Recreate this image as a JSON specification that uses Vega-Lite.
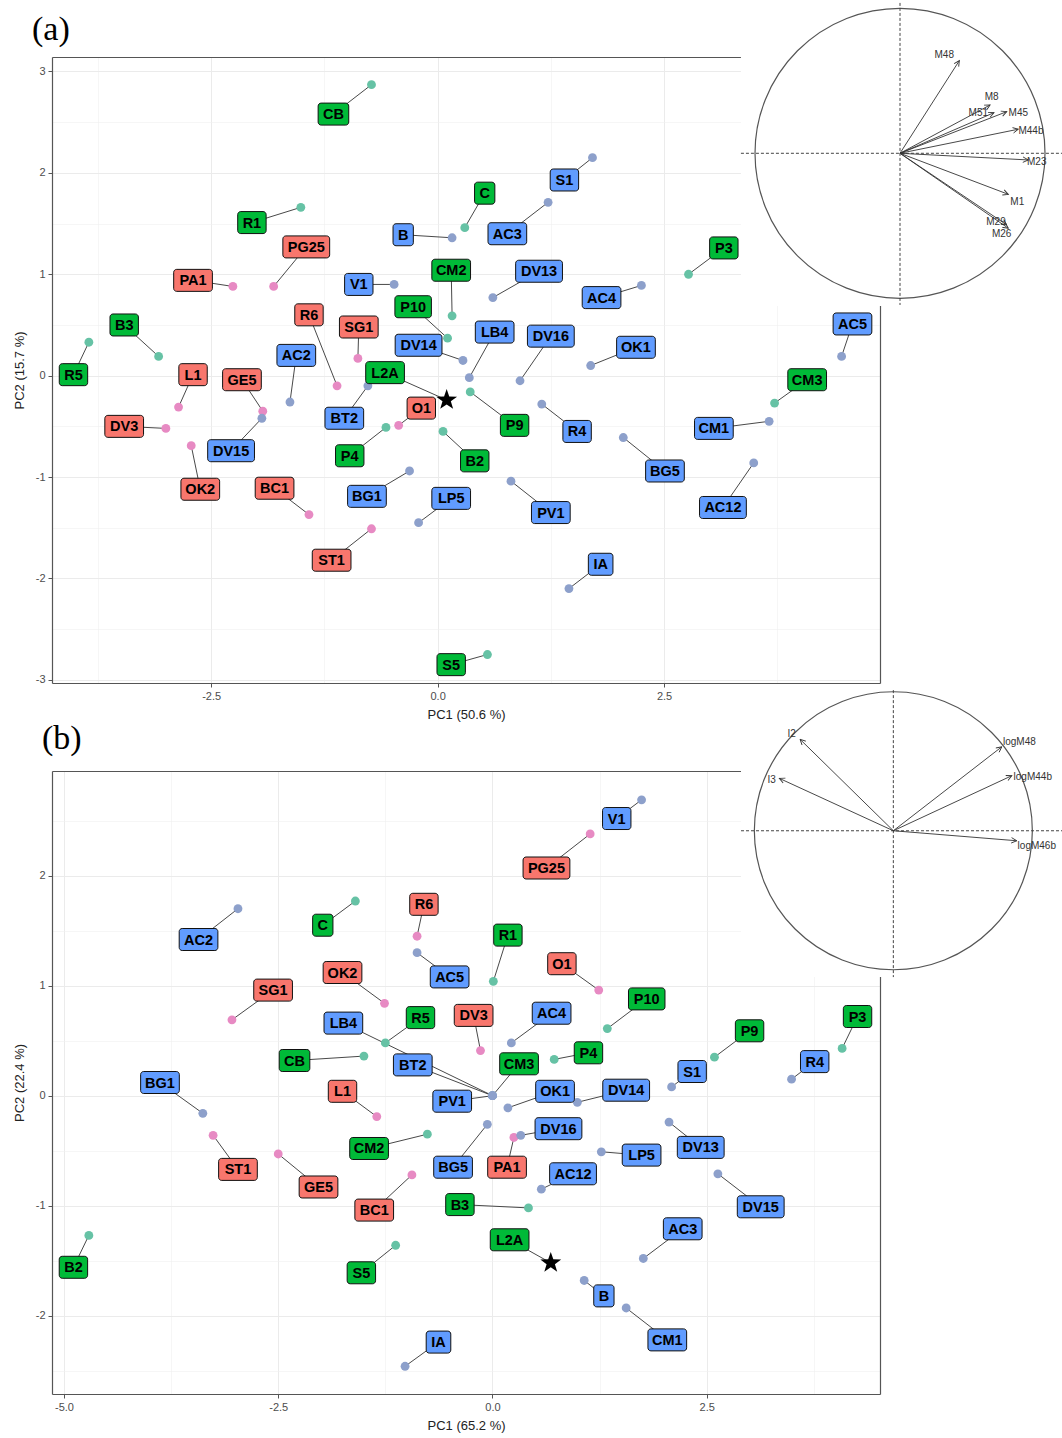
{
"$schema": "https://vega.github.io/schema/vega-lite/v6.json",
"autosize": {"type": "pad"},
"padding": {"left": 13, "top": 0, "right": 0, "bottom": 0},
"background": "white",
"config": {
  "view": {"stroke": null},
  "font": "Liberation Sans",
  "axis": {"domainColor": "#555555", "domainWidth": 1.2, "tickColor": "#555555", "tickSize": 4, "tickWidth": 1, "labelColor": "#4d4d4d", "labelFontSize": 11, "labelFont": "Liberation Sans", "titleFont": "Liberation Sans", "titleFontSize": 13, "titleFontWeight": "normal", "titleColor": "#222222", "gridColor": "#ebebeb", "gridWidth": 1, "labelPadding": 3}
},
"datasets": {
  "a": [
    {"label":"PG25","grp":"r","px":-1.81,"py":0.88,"lx":-1.45,"ly":1.27},
    {"label":"PA1","grp":"r","px":-2.26,"py":0.88,"lx":-2.70,"ly":0.94},
    {"label":"R6","grp":"r","px":-1.11,"py":-0.10,"lx":-1.42,"ly":0.60},
    {"label":"SG1","grp":"r","px":-0.88,"py":0.17,"lx":-0.87,"ly":0.48},
    {"label":"L1","grp":"r","px":-2.86,"py":-0.31,"lx":-2.70,"ly":0.01},
    {"label":"GE5","grp":"r","px":-1.93,"py":-0.35,"lx":-2.16,"ly":-0.04},
    {"label":"DV3","grp":"r","px":-3.00,"py":-0.52,"lx":-3.46,"ly":-0.50},
    {"label":"OK2","grp":"r","px":-2.72,"py":-0.69,"lx":-2.62,"ly":-1.12},
    {"label":"BC1","grp":"r","px":-1.42,"py":-1.37,"lx":-1.80,"ly":-1.11},
    {"label":"ST1","grp":"r","px":-0.73,"py":-1.51,"lx":-1.17,"ly":-1.82},
    {"label":"O1","grp":"r","px":-0.43,"py":-0.49,"lx":-0.18,"ly":-0.32},
    {"label":"CB","grp":"g","px":-0.73,"py":2.87,"lx":-1.15,"ly":2.58},
    {"label":"R1","grp":"g","px":-1.51,"py":1.66,"lx":-2.05,"ly":1.51},
    {"label":"C","grp":"g","px":0.30,"py":1.46,"lx":0.52,"ly":1.80},
    {"label":"CM2","grp":"g","px":0.16,"py":0.59,"lx":0.15,"ly":1.04},
    {"label":"P10","grp":"g","px":0.11,"py":0.37,"lx":-0.27,"ly":0.68},
    {"label":"B3","grp":"g","px":-3.08,"py":0.19,"lx":-3.46,"ly":0.50},
    {"label":"R5","grp":"g","px":-3.85,"py":0.33,"lx":-4.02,"ly":0.01},
    {"label":"L2A","grp":"g","px":0.10,"py":-0.24,"lx":-0.58,"ly":0.03},
    {"label":"P4","grp":"g","px":-0.57,"py":-0.51,"lx":-0.97,"ly":-0.79},
    {"label":"B2","grp":"g","px":0.06,"py":-0.55,"lx":0.41,"ly":-0.84},
    {"label":"S5","grp":"g","px":0.55,"py":-2.75,"lx":0.15,"ly":-2.85},
    {"label":"P9","grp":"g","px":0.36,"py":-0.16,"lx":0.85,"ly":-0.49},
    {"label":"CM3","grp":"g","px":3.72,"py":-0.27,"lx":4.08,"ly":-0.04},
    {"label":"P3","grp":"g","px":2.77,"py":1.00,"lx":3.16,"ly":1.26},
    {"label":"B","grp":"b","px":0.16,"py":1.36,"lx":-0.38,"ly":1.39},
    {"label":"AC3","grp":"b","px":1.22,"py":1.71,"lx":0.77,"ly":1.40},
    {"label":"S1","grp":"b","px":1.71,"py":2.15,"lx":1.40,"ly":1.93},
    {"label":"DV13","grp":"b","px":0.61,"py":0.77,"lx":1.12,"ly":1.03},
    {"label":"V1","grp":"b","px":-0.48,"py":0.90,"lx":-0.87,"ly":0.90},
    {"label":"AC4","grp":"b","px":2.25,"py":0.89,"lx":1.81,"ly":0.77},
    {"label":"LB4","grp":"b","px":0.35,"py":-0.02,"lx":0.63,"ly":0.43},
    {"label":"DV14","grp":"b","px":0.28,"py":0.15,"lx":-0.21,"ly":0.30},
    {"label":"DV16","grp":"b","px":0.91,"py":-0.05,"lx":1.25,"ly":0.39},
    {"label":"OK1","grp":"b","px":1.69,"py":0.10,"lx":2.19,"ly":0.28},
    {"label":"AC5","grp":"b","px":4.46,"py":0.19,"lx":4.58,"ly":0.51},
    {"label":"AC2","grp":"b","px":-1.63,"py":-0.26,"lx":-1.56,"ly":0.20},
    {"label":"BT2","grp":"b","px":-0.77,"py":-0.10,"lx":-1.03,"ly":-0.42},
    {"label":"DV15","grp":"b","px":-1.94,"py":-0.42,"lx":-2.28,"ly":-0.74},
    {"label":"BG1","grp":"b","px":-0.31,"py":-0.94,"lx":-0.78,"ly":-1.19},
    {"label":"LP5","grp":"b","px":-0.21,"py":-1.45,"lx":0.15,"ly":-1.21},
    {"label":"PV1","grp":"b","px":0.81,"py":-1.04,"lx":1.25,"ly":-1.35},
    {"label":"R4","grp":"b","px":1.15,"py":-0.28,"lx":1.54,"ly":-0.55},
    {"label":"BG5","grp":"b","px":2.05,"py":-0.61,"lx":2.51,"ly":-0.94},
    {"label":"CM1","grp":"b","px":3.66,"py":-0.45,"lx":3.05,"ly":-0.52},
    {"label":"AC12","grp":"b","px":3.49,"py":-0.86,"lx":3.15,"ly":-1.30},
    {"label":"IA","grp":"b","px":1.45,"py":-2.10,"lx":1.80,"ly":-1.86}
  ],
  "b": [
    {"label":"PG25","grp":"r","px":1.14,"py":2.38,"lx":0.63,"ly":2.07},
    {"label":"R6","grp":"r","px":-0.88,"py":1.45,"lx":-0.80,"ly":1.74},
    {"label":"O1","grp":"r","px":1.24,"py":0.96,"lx":0.81,"ly":1.20},
    {"label":"OK2","grp":"r","px":-1.26,"py":0.84,"lx":-1.75,"ly":1.12},
    {"label":"SG1","grp":"r","px":-3.04,"py":0.69,"lx":-2.56,"ly":0.96},
    {"label":"DV3","grp":"r","px":-0.14,"py":0.41,"lx":-0.22,"ly":0.73},
    {"label":"L1","grp":"r","px":-1.35,"py":-0.19,"lx":-1.75,"ly":0.04},
    {"label":"ST1","grp":"r","px":-3.26,"py":-0.36,"lx":-2.97,"ly":-0.67},
    {"label":"GE5","grp":"r","px":-2.50,"py":-0.53,"lx":-2.03,"ly":-0.83},
    {"label":"BC1","grp":"r","px":-0.94,"py":-0.72,"lx":-1.38,"ly":-1.04},
    {"label":"PA1","grp":"r","px":0.25,"py":-0.38,"lx":0.17,"ly":-0.65},
    {"label":"C","grp":"g","px":-1.60,"py":1.77,"lx":-1.98,"ly":1.55},
    {"label":"R1","grp":"g","px":0.01,"py":1.04,"lx":0.18,"ly":1.46},
    {"label":"P10","grp":"g","px":1.34,"py":0.61,"lx":1.80,"ly":0.88},
    {"label":"R5","grp":"g","px":-1.25,"py":0.48,"lx":-0.84,"ly":0.71},
    {"label":"P4","grp":"g","px":0.72,"py":0.33,"lx":1.12,"ly":0.39},
    {"label":"P9","grp":"g","px":2.59,"py":0.35,"lx":3.00,"ly":0.59},
    {"label":"P3","grp":"g","px":4.08,"py":0.43,"lx":4.26,"ly":0.72},
    {"label":"CB","grp":"g","px":-1.50,"py":0.36,"lx":-2.31,"ly":0.32},
    {"label":"CM3","grp":"g","px":0.00,"py":0.00,"lx":0.31,"ly":0.29},
    {"label":"CM2","grp":"g","px":-0.76,"py":-0.35,"lx":-1.44,"ly":-0.48},
    {"label":"B3","grp":"g","px":0.42,"py":-1.02,"lx":-0.38,"ly":-0.99},
    {"label":"L2A","grp":"g","px":0.68,"py":-1.52,"lx":0.20,"ly":-1.31},
    {"label":"B2","grp":"g","px":-4.71,"py":-1.27,"lx":-4.89,"ly":-1.56},
    {"label":"S5","grp":"g","px":-1.13,"py":-1.36,"lx":-1.53,"ly":-1.61},
    {"label":"V1","grp":"b","px":1.74,"py":2.69,"lx":1.45,"ly":2.52},
    {"label":"AC2","grp":"b","px":-2.97,"py":1.70,"lx":-3.43,"ly":1.42},
    {"label":"AC5","grp":"b","px":-0.88,"py":1.30,"lx":-0.50,"ly":1.08},
    {"label":"AC4","grp":"b","px":0.22,"py":0.48,"lx":0.69,"ly":0.75},
    {"label":"LB4","grp":"b","px":0.00,"py":0.00,"lx":-1.74,"ly":0.66},
    {"label":"BT2","grp":"b","px":0.00,"py":0.00,"lx":-0.93,"ly":0.28},
    {"label":"PV1","grp":"b","px":0.00,"py":0.00,"lx":-0.47,"ly":-0.05},
    {"label":"R4","grp":"b","px":3.49,"py":0.15,"lx":3.76,"ly":0.31},
    {"label":"S1","grp":"b","px":2.09,"py":0.08,"lx":2.33,"ly":0.22},
    {"label":"BG1","grp":"b","px":-3.38,"py":-0.16,"lx":-3.88,"ly":0.12},
    {"label":"OK1","grp":"b","px":0.18,"py":-0.11,"lx":0.73,"ly":0.04},
    {"label":"DV14","grp":"b","px":0.99,"py":-0.06,"lx":1.56,"ly":0.05},
    {"label":"DV16","grp":"b","px":0.33,"py":-0.36,"lx":0.77,"ly":-0.30},
    {"label":"DV13","grp":"b","px":2.06,"py":-0.24,"lx":2.43,"ly":-0.47},
    {"label":"BG5","grp":"b","px":-0.06,"py":-0.26,"lx":-0.46,"ly":-0.65},
    {"label":"LP5","grp":"b","px":1.27,"py":-0.51,"lx":1.74,"ly":-0.54},
    {"label":"AC12","grp":"b","px":0.57,"py":-0.85,"lx":0.94,"ly":-0.71},
    {"label":"DV15","grp":"b","px":2.63,"py":-0.71,"lx":3.13,"ly":-1.01},
    {"label":"AC3","grp":"b","px":1.76,"py":-1.48,"lx":2.22,"ly":-1.21},
    {"label":"B","grp":"b","px":1.07,"py":-1.68,"lx":1.30,"ly":-1.82},
    {"label":"CM1","grp":"b","px":1.56,"py":-1.93,"lx":2.04,"ly":-2.22},
    {"label":"IA","grp":"b","px":-1.02,"py":-2.46,"lx":-0.63,"ly":-2.24}
  ],
  "la": [
    {"var":"M48","ox":0,"oy":0,"ax":0.409,"ay":0.639,"tx":0.305,"ty":0.678},
    {"var":"M8","ox":0,"oy":0,"ax":0.621,"ay":0.333,"tx":0.632,"ty":0.386},
    {"var":"M51","ox":0,"oy":0,"ax":0.648,"ay":0.280,"tx":0.540,"ty":0.280},
    {"var":"M45","ox":0,"oy":0,"ax":0.736,"ay":0.287,"tx":0.816,"ty":0.280},
    {"var":"M44b","ox":0,"oy":0,"ax":0.816,"ay":0.166,"tx":0.903,"ty":0.156},
    {"var":"M23","ox":0,"oy":0,"ax":0.885,"ay":-0.046,"tx":0.943,"ty":-0.058},
    {"var":"M1","ox":0,"oy":0,"ax":0.747,"ay":-0.283,"tx":0.809,"ty":-0.334},
    {"var":"M29","ox":0,"oy":0,"ax":0.736,"ay":-0.494,"tx":0.662,"ty":-0.476},
    {"var":"M26","ox":0,"oy":0,"ax":0.747,"ay":-0.517,"tx":0.701,"ty":-0.559}
  ],
  "lb": [
    {"var":"I2","ox":0,"oy":0,"ax":-0.671,"ay":0.658,"tx":-0.731,"ty":0.696},
    {"var":"I3","ox":0,"oy":0,"ax":-0.820,"ay":0.377,"tx":-0.875,"ty":0.365},
    {"var":"logM48","ox":0,"oy":0,"ax":0.780,"ay":0.604,"tx":0.907,"ty":0.636},
    {"var":"logM44b","ox":0,"oy":0,"ax":0.852,"ay":0.396,"tx":1.003,"ty":0.388},
    {"var":"logM46b","ox":0,"oy":0,"ax":0.888,"ay":-0.072,"tx":1.032,"ty":-0.110}
  ],
  "fa": [
    {"x1":-1.097,"x2":1.117,"y1":-1.053,"y2":1.057,"hx1":-1.097,"hx2":1.117,"vy1":-1.046,"vy2":1.037,"cx":0,"cy":0}
  ],
  "fb": [
    {"x1":-1.096,"x2":1.214,"y1":-1.053,"y2":1.027,"hx1":-1.096,"hx2":1.214,"vy1":-1.053,"vy2":1.012,"cx":0,"cy":0}
  ]
},
"vconcat": [
  {
    "width": 828, "height": 626,
    "title": {"text": "(a)", "anchor": "start", "frame": "group", "font": "Liberation Serif", "fontSize": 34, "fontWeight": "normal", "color": "#000000", "offset": 0, "baseline": "alphabetic", "dx": -20, "dy": 74},
    "layer": [
      {
        "data": {"name": "a"},
        "resolve": {"axis": {"x": "independent", "y": "independent"}},
        "layer": [
          {"mark": {"type": "rule", "color": "#333333", "strokeWidth": 0.9},
           "encoding": {
             "x": {"field": "px", "type": "quantitative", "scale": {"domain": [-4.257, 4.884], "nice": false, "zero": false}, "axis": {"orient": "bottom", "values": [-2.5, 0, 2.5], "format": ".1f", "labelExpr": "replace(datum.label, '\u2212', '-')", "title": "PC1 (50.6 %)", "grid": true, "titlePadding": 7.5}},
             "y": {"field": "py", "type": "quantitative", "scale": {"domain": [-3.031, 3.143], "nice": false, "zero": false}, "axis": {"orient": "left", "values": [-3, -2, -1, 0, 1, 2, 3], "format": "d", "labelExpr": "replace(datum.label, '\u2212', '-')", "title": "PC2 (15.7 %)", "grid": true, "titlePadding": 9}},
             "x2": {"field": "lx"}, "y2": {"field": "ly"}}},
          {"transform": [{"filter": "datum.label !== 'L2A'"}],
           "mark": {"type": "point", "filled": true, "size": 78, "opacity": 1},
           "encoding": {
             "x": {"field": "px", "type": "quantitative", "scale": {"domain": [-4.257, 4.884], "nice": false, "zero": false}, "axis": {"orient": "top", "values": [-3.75, -1.25, 1.25, 3.75], "grid": true, "gridWidth": 0.6, "gridColor": "#f0f0f0", "labels": false, "ticks": false, "title": null, "domain": true}},
             "y": {"field": "py", "type": "quantitative", "scale": {"domain": [-3.031, 3.143], "nice": false, "zero": false}, "axis": {"orient": "right", "values": [-2.5, -1.5, -0.5, 0.5, 1.5, 2.5], "grid": true, "gridWidth": 0.6, "gridColor": "#f0f0f0", "labels": false, "ticks": false, "title": null, "domain": true}},
             "color": {"field": "grp", "type": "nominal", "scale": {"domain": ["r", "g", "b"], "range": ["#E78AC3", "#66C2A5", "#8DA0CB"]}, "legend": null}}},
          {"transform": [{"filter": "datum.label === 'L2A'"}],
           "mark": {"type": "point", "filled": true, "size": 480, "opacity": 1, "color": "#000000", "shape": "M0,-1L0.235,-0.324L0.951,-0.309L0.38,0.124L0.588,0.809L0,0.4L-0.588,0.809L-0.38,0.124L-0.951,-0.309L-0.235,-0.324Z"},
           "encoding": {
             "x": {"field": "px", "type": "quantitative", "scale": {"domain": [-4.257, 4.884], "nice": false, "zero": false}, "axis": null},
             "y": {"field": "py", "type": "quantitative", "scale": {"domain": [-3.031, 3.143], "nice": false, "zero": false}, "axis": null}}},
          {"transform": [
             {"calculate": "(length(replace(datum.label, regexp('[0-9]','g'), ''))*10.3 + (length(datum.label) - length(replace(datum.label, regexp('[0-9]','g'), '')))*8.1 - (indexof(datum.label, 'I') >= 0 ? 6 : 0) + 10)/2", "as": "hw"},
             {"calculate": "datum.lx - datum.hw/90.58", "as": "bx1"},
             {"calculate": "datum.lx + datum.hw/90.58", "as": "bx2"}],
           "mark": {"type": "rect", "cornerRadius": 3, "stroke": "#111111", "strokeWidth": 1, "yOffset": -11, "y2Offset": 11},
           "encoding": {
             "x": {"field": "bx1", "type": "quantitative", "scale": {"domain": [-4.257, 4.884], "nice": false, "zero": false}, "axis": null},
             "x2": {"field": "bx2"},
             "y": {"field": "ly", "type": "quantitative", "scale": {"domain": [-3.031, 3.143], "nice": false, "zero": false}, "axis": null},
             "y2": {"field": "ly"},
             "fill": {"field": "grp", "type": "nominal", "scale": {"domain": ["r", "g", "b"], "range": ["#F8766D", "#00BA38", "#619CFF"]}, "legend": null}}},
          {"mark": {"type": "text", "font": "Liberation Sans", "fontWeight": "bold", "fontSize": 14.5, "color": "#000000", "align": "center", "baseline": "middle", "dy": 1},
           "encoding": {
             "x": {"field": "lx", "type": "quantitative", "scale": {"domain": [-4.257, 4.884], "nice": false, "zero": false}, "axis": null},
             "y": {"field": "ly", "type": "quantitative", "scale": {"domain": [-3.031, 3.143], "nice": false, "zero": false}, "axis": null},
             "text": {"field": "label"}}}
        ]
      },
      {
        "layer": [
          {"data": {"name": "fa"}, "mark": {"type": "rect", "fill": "white"},
           "encoding": {
             "x": {"field": "x1", "type": "quantitative", "scale": {"domain": [-5.848, -0.138], "nice": false, "zero": false}, "axis": null},
             "x2": {"field": "x2"},
             "y": {"field": "y1", "type": "quantitative", "scale": {"domain": [-3.653, 0.664], "nice": false, "zero": false}, "axis": null},
             "y2": {"field": "y2"}}},
          {"data": {"name": "fa"}, "mark": {"type": "point", "shape": "circle", "size": 84100, "filled": false, "color": "#555555", "strokeWidth": 1.2, "opacity": 1},
           "encoding": {
             "x": {"field": "cx", "type": "quantitative", "scale": {"domain": [-5.848, -0.138], "nice": false, "zero": false}, "axis": null},
             "y": {"field": "cy", "type": "quantitative", "scale": {"domain": [-3.653, 0.664], "nice": false, "zero": false}, "axis": null}}},
          {"data": {"name": "fa"}, "mark": {"type": "rule", "strokeDash": [3, 2], "color": "#444444", "strokeWidth": 1},
           "encoding": {
             "x": {"field": "hx1", "type": "quantitative", "scale": {"domain": [-5.848, -0.138], "nice": false, "zero": false}, "axis": null},
             "x2": {"field": "hx2"},
             "y": {"field": "cy", "type": "quantitative", "scale": {"domain": [-3.653, 0.664], "nice": false, "zero": false}, "axis": null}}},
          {"data": {"name": "fa"}, "mark": {"type": "rule", "strokeDash": [3, 2], "color": "#444444", "strokeWidth": 1},
           "encoding": {
             "x": {"field": "cx", "type": "quantitative", "scale": {"domain": [-5.848, -0.138], "nice": false, "zero": false}, "axis": null},
             "y": {"field": "vy2", "type": "quantitative", "scale": {"domain": [-3.653, 0.664], "nice": false, "zero": false}, "axis": null},
             "y2": {"field": "vy1"}}},
          {"data": {"name": "la"}, "mark": {"type": "rule", "color": "#333333", "strokeWidth": 0.9},
           "encoding": {
             "x": {"field": "ox", "type": "quantitative", "scale": {"domain": [-5.848, -0.138], "nice": false, "zero": false}, "axis": null},
             "y": {"field": "oy", "type": "quantitative", "scale": {"domain": [-3.653, 0.664], "nice": false, "zero": false}, "axis": null},
             "x2": {"field": "ax"}, "y2": {"field": "ay"}}},
          {"data": {"name": "la"},
           "transform": [{"calculate": "atan2(datum.ax, datum.ay)*180/PI", "as": "ang"}],
           "mark": {"type": "point", "shape": "M-0.45,0.9L0,0L0.45,0.9", "filled": false, "size": 144, "color": "#333333", "strokeWidth": 0.9, "opacity": 1},
           "encoding": {
             "x": {"field": "ax", "type": "quantitative", "scale": {"domain": [-5.848, -0.138], "nice": false, "zero": false}, "axis": null},
             "y": {"field": "ay", "type": "quantitative", "scale": {"domain": [-3.653, 0.664], "nice": false, "zero": false}, "axis": null},
             "angle": {"field": "ang", "type": "quantitative", "scale": {"domain": [-180, 180], "range": [-180, 180]}, "legend": null}}},
          {"data": {"name": "la"}, "mark": {"type": "text", "fontSize": 10, "color": "#333333", "align": "center", "baseline": "middle"},
           "encoding": {
             "x": {"field": "tx", "type": "quantitative", "scale": {"domain": [-5.848, -0.138], "nice": false, "zero": false}, "axis": null},
             "y": {"field": "ty", "type": "quantitative", "scale": {"domain": [-3.653, 0.664], "nice": false, "zero": false}, "axis": null},
             "text": {"field": "var"}}}
        ]
      }
    ],
    "resolve": {"scale": {"x": "independent", "y": "independent"}}
  },
  {
    "width": 828, "height": 623,
    "title": {"text": "(b)", "anchor": "start", "frame": "group", "font": "Liberation Serif", "fontSize": 34, "fontWeight": "normal", "color": "#000000", "offset": 0, "baseline": "alphabetic", "dx": -10, "dy": 95},
    "layer": [
      {
        "data": {"name": "b"},
        "resolve": {"axis": {"x": "independent", "y": "independent"}},
        "layer": [
          {"mark": {"type": "rule", "color": "#333333", "strokeWidth": 0.9},
           "encoding": {
             "x": {"field": "px", "type": "quantitative", "scale": {"domain": [-5.140, 4.522], "nice": false, "zero": false}, "axis": {"orient": "bottom", "values": [-5, -2.5, 0, 2.5], "format": ".1f", "labelExpr": "replace(datum.label, '\u2212', '-')", "title": "PC1 (65.2 %)", "grid": true, "titlePadding": 7.5}},
             "y": {"field": "py", "type": "quantitative", "scale": {"domain": [-2.712, 2.952], "nice": false, "zero": false}, "axis": {"orient": "left", "values": [-2, -1, 0, 1, 2], "format": "d", "labelExpr": "replace(datum.label, '\u2212', '-')", "title": "PC2 (22.4 %)", "grid": true, "titlePadding": 9}},
             "x2": {"field": "lx"}, "y2": {"field": "ly"}}},
          {"transform": [{"filter": "datum.label !== 'L2A'"}],
           "mark": {"type": "point", "filled": true, "size": 78, "opacity": 1},
           "encoding": {
             "x": {"field": "px", "type": "quantitative", "scale": {"domain": [-5.140, 4.522], "nice": false, "zero": false}, "axis": {"orient": "top", "values": [-3.75, -1.25, 1.25, 3.75], "grid": true, "gridWidth": 0.6, "gridColor": "#f0f0f0", "labels": false, "ticks": false, "title": null, "domain": true}},
             "y": {"field": "py", "type": "quantitative", "scale": {"domain": [-2.712, 2.952], "nice": false, "zero": false}, "axis": {"orient": "right", "values": [-2.5, -1.5, -0.5, 0.5, 1.5, 2.5], "grid": true, "gridWidth": 0.6, "gridColor": "#f0f0f0", "labels": false, "ticks": false, "title": null, "domain": true}},
             "color": {"field": "grp", "type": "nominal", "scale": {"domain": ["r", "g", "b"], "range": ["#E78AC3", "#66C2A5", "#8DA0CB"]}, "legend": null}}},
          {"transform": [{"filter": "datum.label === 'L2A'"}],
           "mark": {"type": "point", "filled": true, "size": 480, "opacity": 1, "color": "#000000", "shape": "M0,-1L0.235,-0.324L0.951,-0.309L0.38,0.124L0.588,0.809L0,0.4L-0.588,0.809L-0.38,0.124L-0.951,-0.309L-0.235,-0.324Z"},
           "encoding": {
             "x": {"field": "px", "type": "quantitative", "scale": {"domain": [-5.140, 4.522], "nice": false, "zero": false}, "axis": null},
             "y": {"field": "py", "type": "quantitative", "scale": {"domain": [-2.712, 2.952], "nice": false, "zero": false}, "axis": null}}},
          {"transform": [
             {"calculate": "(length(replace(datum.label, regexp('[0-9]','g'), ''))*10.3 + (length(datum.label) - length(replace(datum.label, regexp('[0-9]','g'), '')))*8.1 - (indexof(datum.label, 'I') >= 0 ? 6 : 0) + 10)/2", "as": "hw"},
             {"calculate": "datum.lx - datum.hw/85.70", "as": "bx1"},
             {"calculate": "datum.lx + datum.hw/85.70", "as": "bx2"}],
           "mark": {"type": "rect", "cornerRadius": 3, "stroke": "#111111", "strokeWidth": 1, "yOffset": -11, "y2Offset": 11},
           "encoding": {
             "x": {"field": "bx1", "type": "quantitative", "scale": {"domain": [-5.140, 4.522], "nice": false, "zero": false}, "axis": null},
             "x2": {"field": "bx2"},
             "y": {"field": "ly", "type": "quantitative", "scale": {"domain": [-2.712, 2.952], "nice": false, "zero": false}, "axis": null},
             "y2": {"field": "ly"},
             "fill": {"field": "grp", "type": "nominal", "scale": {"domain": ["r", "g", "b"], "range": ["#F8766D", "#00BA38", "#619CFF"]}, "legend": null}}},
          {"mark": {"type": "text", "font": "Liberation Sans", "fontWeight": "bold", "fontSize": 14.5, "color": "#000000", "align": "center", "baseline": "middle", "dy": 1},
           "encoding": {
             "x": {"field": "lx", "type": "quantitative", "scale": {"domain": [-5.140, 4.522], "nice": false, "zero": false}, "axis": null},
             "y": {"field": "ly", "type": "quantitative", "scale": {"domain": [-2.712, 2.952], "nice": false, "zero": false}, "axis": null},
             "text": {"field": "label"}}}
        ]
      },
      {
        "layer": [
          {"data": {"name": "fb"}, "mark": {"type": "rect", "fill": "white"},
           "encoding": {
             "x": {"field": "x1", "type": "quantitative", "scale": {"domain": [-6.053, -0.096], "nice": false, "zero": false}, "axis": null},
             "x2": {"field": "x2"},
             "y": {"field": "y1", "type": "quantitative", "scale": {"domain": [-4.053, 0.430], "nice": false, "zero": false}, "axis": null},
             "y2": {"field": "y2"}}},
          {"data": {"name": "fb"}, "mark": {"type": "point", "shape": "circle", "size": 77284, "filled": false, "color": "#555555", "strokeWidth": 1.2, "opacity": 1},
           "encoding": {
             "x": {"field": "cx", "type": "quantitative", "scale": {"domain": [-6.053, -0.096], "nice": false, "zero": false}, "axis": null},
             "y": {"field": "cy", "type": "quantitative", "scale": {"domain": [-4.053, 0.430], "nice": false, "zero": false}, "axis": null}}},
          {"data": {"name": "fb"}, "mark": {"type": "rule", "strokeDash": [3, 2], "color": "#444444", "strokeWidth": 1},
           "encoding": {
             "x": {"field": "hx1", "type": "quantitative", "scale": {"domain": [-6.053, -0.096], "nice": false, "zero": false}, "axis": null},
             "x2": {"field": "hx2"},
             "y": {"field": "cy", "type": "quantitative", "scale": {"domain": [-4.053, 0.430], "nice": false, "zero": false}, "axis": null}}},
          {"data": {"name": "fb"}, "mark": {"type": "rule", "strokeDash": [3, 2], "color": "#444444", "strokeWidth": 1},
           "encoding": {
             "x": {"field": "cx", "type": "quantitative", "scale": {"domain": [-6.053, -0.096], "nice": false, "zero": false}, "axis": null},
             "y": {"field": "vy2", "type": "quantitative", "scale": {"domain": [-4.053, 0.430], "nice": false, "zero": false}, "axis": null},
             "y2": {"field": "vy1"}}},
          {"data": {"name": "lb"}, "mark": {"type": "rule", "color": "#333333", "strokeWidth": 0.9},
           "encoding": {
             "x": {"field": "ox", "type": "quantitative", "scale": {"domain": [-6.053, -0.096], "nice": false, "zero": false}, "axis": null},
             "y": {"field": "oy", "type": "quantitative", "scale": {"domain": [-4.053, 0.430], "nice": false, "zero": false}, "axis": null},
             "x2": {"field": "ax"}, "y2": {"field": "ay"}}},
          {"data": {"name": "lb"},
           "transform": [{"calculate": "atan2(datum.ax, datum.ay)*180/PI", "as": "ang"}],
           "mark": {"type": "point", "shape": "M-0.45,0.9L0,0L0.45,0.9", "filled": false, "size": 144, "color": "#333333", "strokeWidth": 0.9, "opacity": 1},
           "encoding": {
             "x": {"field": "ax", "type": "quantitative", "scale": {"domain": [-6.053, -0.096], "nice": false, "zero": false}, "axis": null},
             "y": {"field": "ay", "type": "quantitative", "scale": {"domain": [-4.053, 0.430], "nice": false, "zero": false}, "axis": null},
             "angle": {"field": "ang", "type": "quantitative", "scale": {"domain": [-180, 180], "range": [-180, 180]}, "legend": null}}},
          {"data": {"name": "lb"}, "mark": {"type": "text", "fontSize": 10, "color": "#333333", "align": "center", "baseline": "middle"},
           "encoding": {
             "x": {"field": "tx", "type": "quantitative", "scale": {"domain": [-6.053, -0.096], "nice": false, "zero": false}, "axis": null},
             "y": {"field": "ty", "type": "quantitative", "scale": {"domain": [-4.053, 0.430], "nice": false, "zero": false}, "axis": null},
             "text": {"field": "var"}}}
        ]
      }
    ],
    "resolve": {"scale": {"x": "independent", "y": "independent"}}
  }
],
"bounds": "flush",
"spacing": 88,
"resolve": {"scale": {"x": "independent", "y": "independent"}}
}
